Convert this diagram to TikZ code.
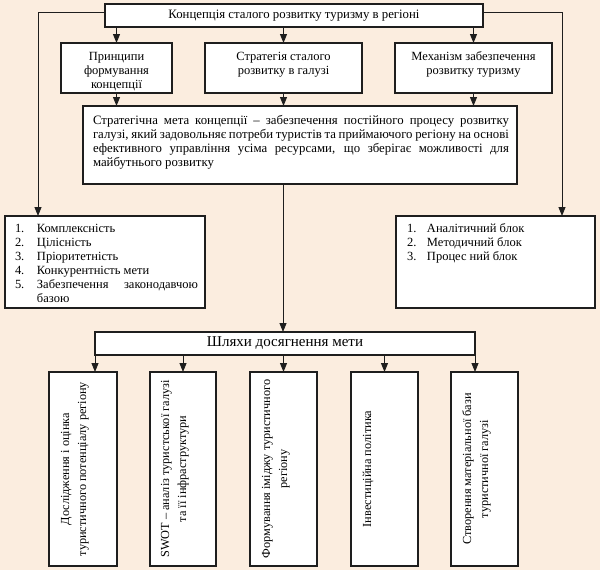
\documentclass[tikz,border=0pt]{standalone}
\usepackage{fontspec}
\setmainfont{Liberation Serif}
\usepackage{graphicx}
\usetikzlibrary{arrows.meta}
\definecolor{bg}{RGB}{251,237,223}
\definecolor{ln}{RGB}{30,30,30}
\tikzset{
  box/.style={draw=ln, line width=1.3pt, fill=white, inner sep=0pt, outer sep=0pt,
    font=\fontsize{12.5}{14}\selectfont},
  rbox/.style={box, font=\fontsize{12.3}{17}\selectfont},
  arr/.style={draw=ln, line width=0.9pt, -{Triangle[length=9pt,width=7pt]}},
}
\begin{document}
\begin{tikzpicture}[x=1pt,y=-1pt]
\fill[bg] (0,0) rectangle (600,570);
\useasboundingbox (0,0) rectangle (600,570);

\node[box, font=\fontsize{12.8}{14}\selectfont] (top) at (294,15.5) {\parbox[c][23pt][c]{378pt}{\centering Концепція сталого розвитку туризму в регіоні}};

\node[box] (b1) at (116.5,68) {\parbox[c][50pt][t]{111pt}{\centering\rule{0pt}{17pt}Принципи\\ формування\\ концепції}};
\node[box] (b2) at (283.5,68) {\parbox[c][50pt][t]{157pt}{\centering\rule{0pt}{17pt}Стратегія сталого\\ розвитку в галузі}};
\node[box] (b3) at (473.5,68) {\parbox[c][50pt][t]{157pt}{\centering\rule{0pt}{17pt}Механізм забезпечення\\ розвитку туризму}};

\node[box, font=\fontsize{12.8}{14}\selectfont] (goal) at (300,145) {\parbox[c][78pt][t]{434pt}{\leftskip=10pt \rightskip=8pt \tolerance=9999 \emergencystretch=20pt
\rule{0pt}{18pt}Стратегічна мета концепції – забезпечення постійного процесу розвитку\linebreak
галузі, який задовольняє потреби туристів та приймаючого регіону на основі\linebreak
ефективного управління усіма ресурсами, що зберігає можливості для\linebreak
майбутнього розвитку\par}};

\node[box] (lbox) at (105,262) {\parbox[c][92pt][t]{200pt}{\raggedright
\rule{0pt}{16pt}\hspace*{10pt}\makebox[22pt][l]{1.}Комплексність\\
\hspace*{10pt}\makebox[22pt][l]{2.}Цілісність\\
\hspace*{10pt}\makebox[22pt][l]{3.}Пріоритетність\\
\hspace*{10pt}\makebox[22pt][l]{4.}Конкурентність мети\\
\hspace*{10pt}\makebox[22pt][l]{5.}\makebox[161pt][s]{Забезпечення\hfill законодавчою}\\
\hspace*{32pt}базою}};

\node[box] (rbox) at (495.5,262) {\parbox[c][92pt][t]{199pt}{\raggedright
\rule{0pt}{16pt}\hspace*{11pt}\makebox[20pt][l]{1.}Аналітичний блок\\
\hspace*{11pt}\makebox[20pt][l]{2.}Методичний блок\\
\hspace*{11pt}\makebox[20pt][l]{3.}Процес ний блок}};

\node[box, font=\fontsize{15}{17}\selectfont] (way) at (285,343.5) {\parbox[c][23pt][c]{380pt}{\centering Шляхи досягнення мети}};

\node[rbox] (c1) at (83,469) {\rotatebox{90}{\parbox[c][68pt][t]{194pt}{\centering\rule{0pt}{20pt}Дослідження і оцінка\\ туристичного потенціалу регіону}}};
\node[rbox] (c2) at (183,469) {\rotatebox{90}{\parbox[c][66pt][t]{194pt}{\centering\rule{0pt}{19pt}SWOT – аналіз туристської галузі\\ та її інфраструктури}}};
\node[rbox] (c3) at (283.5,469) {\rotatebox{90}{\parbox[c][67pt][t]{194pt}{\centering\rule{0pt}{20pt}Формування іміджу туристичного\\ регіону}}};
\node[rbox] (c4) at (384.5,469) {\rotatebox{90}{\parbox[c][67pt][t]{194pt}{\centering\rule{0pt}{20pt}Інвестиційна політика}}};
\node[rbox] (c5) at (484.5,469) {\rotatebox{90}{\parbox[c][67pt][t]{194pt}{\centering\rule{0pt}{20pt}Створення матеріальної бази\\ туристичної галузі}}};

\coordinate (L) at (38,12);
\coordinate (R) at (562,12);
\coordinate (M) at (283,0);

\draw[arr] (top.west |- L) -- (L) -- (L |- lbox.north);
\draw[arr] (top.east |- R) -- (R) -- (R |- rbox.north);
\foreach \n in {b1,b2,b3}{
  \draw[arr] (top.south -| \n.north) -- (\n.north);
  \draw[arr] (\n.south) -- (\n.south |- goal.north);
}
\draw[arr] (goal.south -| M) -- (way.north -| M);
\draw[arr] (way.south west) -- (way.south west |- c1.north);
\foreach \n in {c2,c3,c4}{
  \draw[arr] (\n.north |- way.south) -- (\n.north);
}
\draw[arr] (way.south east) -- (way.south east |- c5.north);
\end{tikzpicture}
\end{document}
